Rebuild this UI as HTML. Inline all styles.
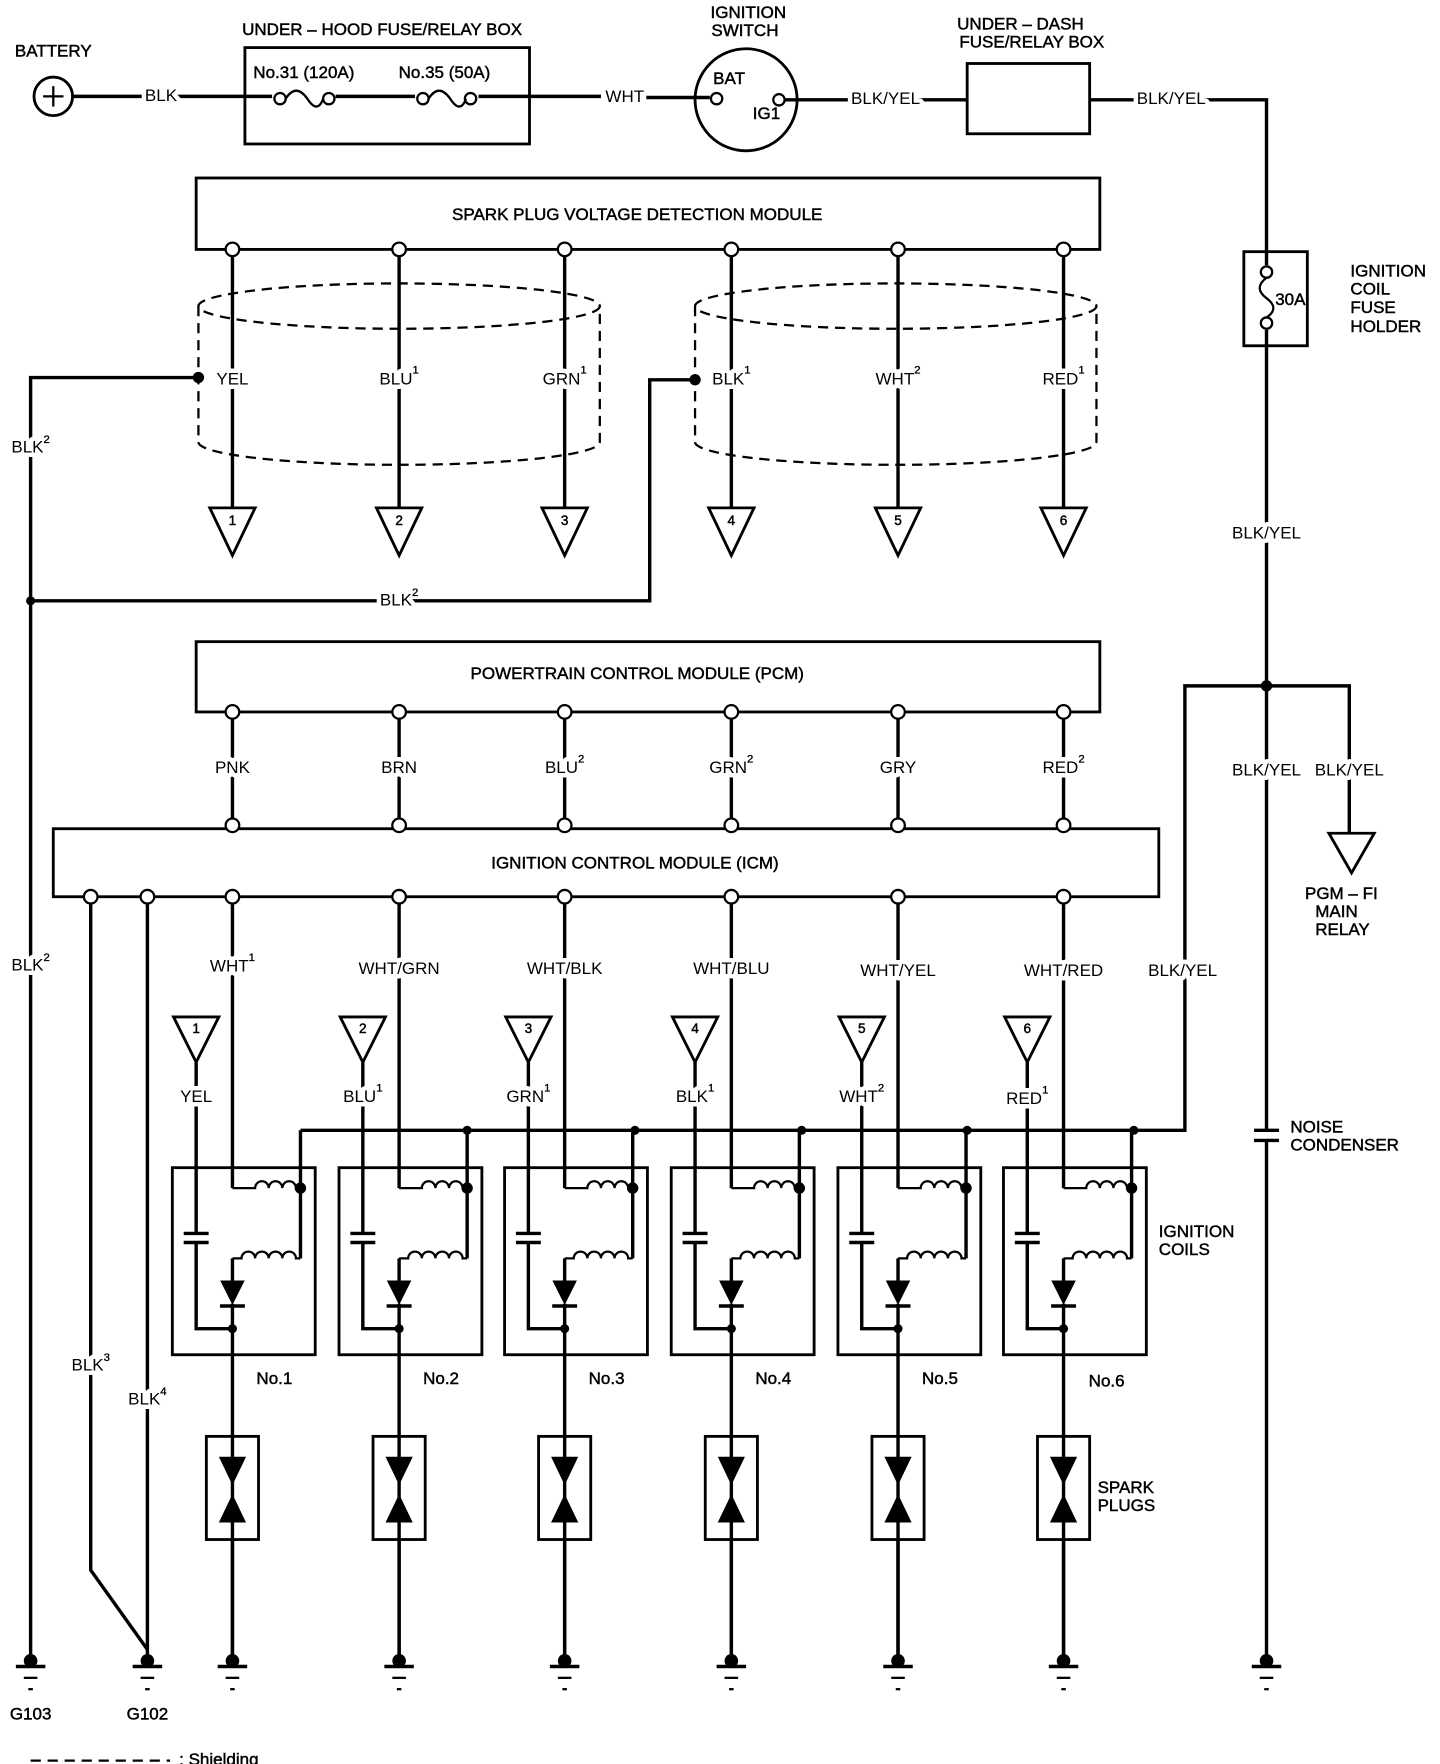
<!DOCTYPE html>
<html><head><meta charset="utf-8"><style>
html,body{margin:0;padding:0;background:#fff}
svg{display:block}
text{font-family:"Liberation Sans Narrow","Liberation Sans",sans-serif;font-size:15px;fill:#000;text-anchor:middle;dominant-baseline:middle;stroke:#000;stroke-width:0.4px}
.h{paint-order:stroke;stroke:#fff;stroke-width:8px;stroke-linejoin:round}
.l{text-anchor:start}
.s{font-size:10px;stroke:#000;stroke-width:0.3px}
</style></head><body>
<svg width="1440" height="1764" viewBox="0 0 1270 1556" preserveAspectRatio="none" xmlns="http://www.w3.org/2000/svg">
<defs>
<g id="col" stroke="#000" stroke-width="3" fill="none">
  <line x1="0" y1="220" x2="0" y2="448"/>
  <path d="M-20,448 L20,448 L0,490 Z" stroke-width="2.5"/>
  <circle cx="0" cy="220" r="6" fill="#fff" stroke-width="2"/>
  <line x1="0" y1="628" x2="0" y2="728"/>
  <circle cx="0" cy="628" r="6" fill="#fff" stroke-width="2"/>
  <circle cx="0" cy="728" r="6" fill="#fff" stroke-width="2"/>
  <line x1="0" y1="797" x2="0" y2="1048"/>
  <circle cx="0" cy="791" r="6" fill="#fff" stroke-width="2"/>
  <rect x="-53" y="1030" width="126" height="165" stroke-width="2.5"/>
  <path d="M0,1048 L20,1048 a6,6 0 1 1 12,0 a6,6 0 1 1 12,0 a6,6 0 1 1 12,0 L60,1048" stroke-width="2"/>
  <circle cx="60" cy="1048" r="3.5" fill="#000"/>
  <line x1="60" y1="997" x2="60" y2="1110"/>
  <path d="M0,1110 L8,1110 a6,6 0 1 1 12,0 a6,6 0 1 1 12,0 a6,6 0 1 1 12,0 a6,6 0 1 1 12,0 L60,1110" stroke-width="2"/>
  <line x1="0" y1="1110" x2="0" y2="1130"/>
  <path d="M-10,1130 L10,1130 L0,1150 Z" fill="#000" stroke-width="1"/>
  <line x1="-11" y1="1152" x2="11" y2="1152"/>
  <line x1="0" y1="1150" x2="0" y2="1465"/>
  <circle cx="0" cy="1172" r="4" fill="#000" stroke="none"/>
  <path d="M-52,897 L-12,897 L-32,937 Z" stroke-width="2.5"/>
  <line x1="-32" y1="937" x2="-32" y2="1088"/>
  <line x1="-43" y1="1088" x2="-21" y2="1088"/>
  <line x1="-43" y1="1096" x2="-21" y2="1096"/>
  <polyline points="-32,1096 -32,1172 0,1172"/>
  <rect x="-23" y="1267" width="46" height="91" stroke-width="2.5" fill="#fff"/>
  <line x1="0" y1="1267" x2="0" y2="1465"/>
  <path d="M-12,1285 L12,1285 L0,1310 Z" fill="#000" stroke="none"/>
  <path d="M-12,1343 L12,1343 L0,1318 Z" fill="#000" stroke="none"/>
  <circle cx="0" cy="1465" r="6" fill="#000" stroke="none"/>
  <line x1="-13" y1="1470" x2="13" y2="1470"/>
  <line x1="-6" y1="1480" x2="6" y2="1480" stroke-width="2"/>
  <line x1="-2" y1="1490" x2="2" y2="1490" stroke-width="2"/>
</g>
<g id="gnd" stroke="#000" fill="none">
  <circle cx="0" cy="1465" r="6" fill="#000" stroke="none"/>
  <line x1="-13" y1="1470" x2="13" y2="1470" stroke-width="3"/>
  <line x1="-6" y1="1480" x2="6" y2="1480" stroke-width="2"/>
  <line x1="-2" y1="1490" x2="2" y2="1490" stroke-width="2"/>
</g>
</defs>

<g stroke="#000" stroke-width="3" fill="none">
  <circle cx="47" cy="85" r="17" stroke-width="2.5"/>
  <line x1="38" y1="85" x2="56" y2="85" stroke-width="2"/><line x1="47" y1="76" x2="47" y2="94" stroke-width="2"/>
  <line x1="64" y1="85" x2="530" y2="85"/>
  <rect x="216" y="42" width="251" height="85" stroke-width="2.5"/>
  <line x1="570" y1="86" x2="626" y2="86"/>
  <circle cx="658" cy="88" r="45" stroke-width="2.5"/>
  <line x1="692" y1="88" x2="853" y2="88"/>
  <rect x="853" y="56" width="108" height="62" stroke-width="2.5"/>
  <polyline points="961,88 1117,88 1117,240"/>
  <rect x="1097" y="222" width="56" height="83" stroke-width="2.5"/>
  <line x1="1117" y1="285" x2="1117" y2="997"/>
  <line x1="1106" y1="997" x2="1128" y2="997"/>
  <line x1="1106" y1="1006" x2="1128" y2="1006"/>
  <line x1="1117" y1="1006" x2="1117" y2="1465"/>
  <polyline points="1190,735 1190,605 1045,605 1045,997 265,997"/>
  <path d="M1172,735 L1212,735 L1192,770 Z" stroke-width="2.5"/>
  <rect x="173" y="157" width="797" height="63" stroke-width="2.5"/>
  <rect x="173" y="566" width="797" height="62" stroke-width="2.5"/>
  <rect x="47" y="731" width="975" height="60" stroke-width="2.5"/>
  <polyline points="175,333 27,333 27,1465"/>
  <polyline points="27,530 573,530 573,335 613,335"/>
  <polyline points="80,797 80,1385 130,1455"/>
  <line x1="130" y1="797" x2="130" y2="1460"/>
</g>
<g fill="#fff" stroke="#000" stroke-width="2">
  <circle cx="632" cy="87" r="5"/><circle cx="687" cy="88" r="5"/>
  <circle cx="80" cy="791" r="6"/><circle cx="130" cy="791" r="6"/>
</g>
<g fill="none" stroke="#000" stroke-width="2">
  <rect x="240" y="80" width="56" height="14" fill="#fff" stroke="none"/>
  <rect x="366" y="80" width="56" height="14" fill="#fff" stroke="none"/>
  <rect x="1110" y="234" width="14" height="57" fill="#fff" stroke="none"/>
  <circle cx="247" cy="87" r="5" fill="#fff"/><circle cx="290" cy="87" r="5" fill="#fff"/>
  <circle cx="373" cy="87" r="5" fill="#fff"/><circle cx="415" cy="87" r="5" fill="#fff"/>
  <path d="M252,87 q9,-14 19,0 q9,14 14,0"/>
  <path d="M378,87 q9,-14 19,0 q9,14 14,0"/>
  <circle cx="1117" cy="240" r="5" fill="#fff"/><circle cx="1117" cy="285" r="5" fill="#fff"/>
  <path d="M1117,245 q-12,9 0,18 q12,9 0,17"/>
</g>
<g fill="#000">
  <circle cx="175" cy="333" r="5"/><circle cx="613" cy="335" r="5"/>
  <circle cx="27" cy="530" r="4"/><circle cx="1117" cy="605" r="5"/>
  <circle cx="412" cy="997" r="4"/><circle cx="560" cy="997" r="4"/><circle cx="707" cy="997" r="4"/>
  <circle cx="853" cy="997" r="4"/><circle cx="1000" cy="997" r="4"/>
</g>
<g fill="none" stroke="#000" stroke-width="2" stroke-dasharray="9,6">
  <ellipse cx="352" cy="270" rx="177" ry="20"/>
  <path d="M175,270 L175,390 A177,20 0 0 0 529,390 L529,270"/>
  <ellipse cx="790" cy="270" rx="177" ry="20"/>
  <path d="M613,270 L613,390 A177,20 0 0 0 967,390 L967,270"/>
  <line x1="27" y1="1553" x2="150" y2="1553"/>
</g>
<use href="#col" x="205"/><use href="#col" x="352"/><use href="#col" x="498"/>
<use href="#col" x="645"/><use href="#col" x="792"/><use href="#col" x="938"/>
<use href="#gnd" x="27"/><use href="#gnd" x="130"/><use href="#gnd" x="1117"/>

<text x="47" y="46">BATTERY</text>
<text x="142" y="85" class="h">BLK</text>
<text x="337" y="27">UNDER – HOOD FUSE/RELAY BOX</text>
<text x="268" y="65">No.31 (120A)</text>
<text x="392" y="65">No.35 (50A)</text>
<text x="551" y="86" class="h">WHT</text>
<text x="660" y="12">IGNITION</text>
<text x="657" y="28">SWITCH</text>
<text x="643" y="70">BAT</text>
<text x="676" y="101">IG1</text>
<text x="781" y="88" class="h">BLK/YEL</text>
<text x="900" y="22">UNDER – DASH</text>
<text x="910" y="38">FUSE/RELAY BOX</text>
<text x="1033" y="88" class="h">BLK/YEL</text>
<text x="1138" y="265">30A</text>
<text x="1191" y="240" class="l">IGNITION</text>
<text x="1191" y="256" class="l">COIL</text>
<text x="1191" y="272" class="l">FUSE</text>
<text x="1191" y="289" class="l">HOLDER</text>
<text x="1117" y="471" class="h">BLK/YEL</text>
<text x="1117" y="680" class="h">BLK/YEL</text>
<text x="1190" y="680" class="h">BLK/YEL</text>
<text x="1183" y="789">PGM – FI</text>
<text x="1160" y="805" class="l">MAIN</text>
<text x="1160" y="821" class="l">RELAY</text>
<text x="1043" y="857" class="h">BLK/YEL</text>
<text x="1138" y="995" class="l">NOISE</text>
<text x="1138" y="1011" class="l">CONDENSER</text>
<text x="562" y="190">SPARK PLUG VOLTAGE DETECTION MODULE</text>
<text x="562" y="595">POWERTRAIN CONTROL MODULE (PCM)</text>
<text x="560" y="762">IGNITION CONTROL MODULE (ICM)</text>

<text x="205" y="335" class="h">YEL</text>
<text x="352" y="335" class="h">BLU<tspan class="s" dy="-8">1</tspan></text>
<text x="498" y="335" class="h">GRN<tspan class="s" dy="-8">1</tspan></text>
<text x="645" y="335" class="h">BLK<tspan class="s" dy="-8">1</tspan></text>
<text x="792" y="335" class="h">WHT<tspan class="s" dy="-8">2</tspan></text>
<text x="938" y="335" class="h">RED<tspan class="s" dy="-8">1</tspan></text>
<text x="205" y="460" style="font-size:12px">1</text><text x="352" y="460" style="font-size:12px">2</text>
<text x="498" y="460" style="font-size:12px">3</text><text x="645" y="460" style="font-size:12px">4</text>
<text x="792" y="460" style="font-size:12px">5</text><text x="938" y="460" style="font-size:12px">6</text>
<text x="173" y="908" style="font-size:12px">1</text><text x="320" y="908" style="font-size:12px">2</text>
<text x="466" y="908" style="font-size:12px">3</text><text x="613" y="908" style="font-size:12px">4</text>
<text x="760" y="908" style="font-size:12px">5</text><text x="906" y="908" style="font-size:12px">6</text>
<text x="27" y="395" class="h">BLK<tspan class="s" dy="-7">2</tspan></text>
<text x="352" y="530" class="h">BLK<tspan class="s" dy="-7">2</tspan></text>
<text x="27" y="852" class="h">BLK<tspan class="s" dy="-7">2</tspan></text>
<text x="80" y="1205" class="h">BLK<tspan class="s" dy="-7">3</tspan></text>
<text x="130" y="1235" class="h">BLK<tspan class="s" dy="-7">4</tspan></text>

<text x="205" y="678" class="h">PNK</text>
<text x="352" y="678" class="h">BRN</text>
<text x="498" y="678" class="h">BLU<tspan class="s" dy="-8">2</tspan></text>
<text x="645" y="678" class="h">GRN<tspan class="s" dy="-8">2</tspan></text>
<text x="792" y="678" class="h">GRY</text>
<text x="938" y="678" class="h">RED<tspan class="s" dy="-8">2</tspan></text>

<text x="205" y="853" class="h">WHT<tspan class="s" dy="-8">1</tspan></text>
<text x="352" y="855" class="h">WHT/GRN</text>
<text x="498" y="855" class="h">WHT/BLK</text>
<text x="645" y="855" class="h">WHT/BLU</text>
<text x="792" y="857" class="h">WHT/YEL</text>
<text x="938" y="857" class="h">WHT/RED</text>

<text x="173" y="968" class="h">YEL</text>
<text x="320" y="968" class="h">BLU<tspan class="s" dy="-8">1</tspan></text>
<text x="466" y="968" class="h">GRN<tspan class="s" dy="-8">1</tspan></text>
<text x="613" y="968" class="h">BLK<tspan class="s" dy="-8">1</tspan></text>
<text x="760" y="968" class="h">WHT<tspan class="s" dy="-8">2</tspan></text>
<text x="906" y="970" class="h">RED<tspan class="s" dy="-8">1</tspan></text>

<text x="242" y="1217">No.1</text><text x="389" y="1217">No.2</text><text x="535" y="1217">No.3</text>
<text x="682" y="1217">No.4</text><text x="829" y="1217">No.5</text><text x="976" y="1219">No.6</text>
<text x="1022" y="1087" class="l">IGNITION</text>
<text x="1022" y="1103" class="l">COILS</text>
<text x="968" y="1313" class="l">SPARK</text>
<text x="968" y="1329" class="l">PLUGS</text>
<text x="27" y="1513">G103</text>
<text x="130" y="1513">G102</text>
<text x="158" y="1553" class="l">: Shielding</text>
</svg>
</body></html>
